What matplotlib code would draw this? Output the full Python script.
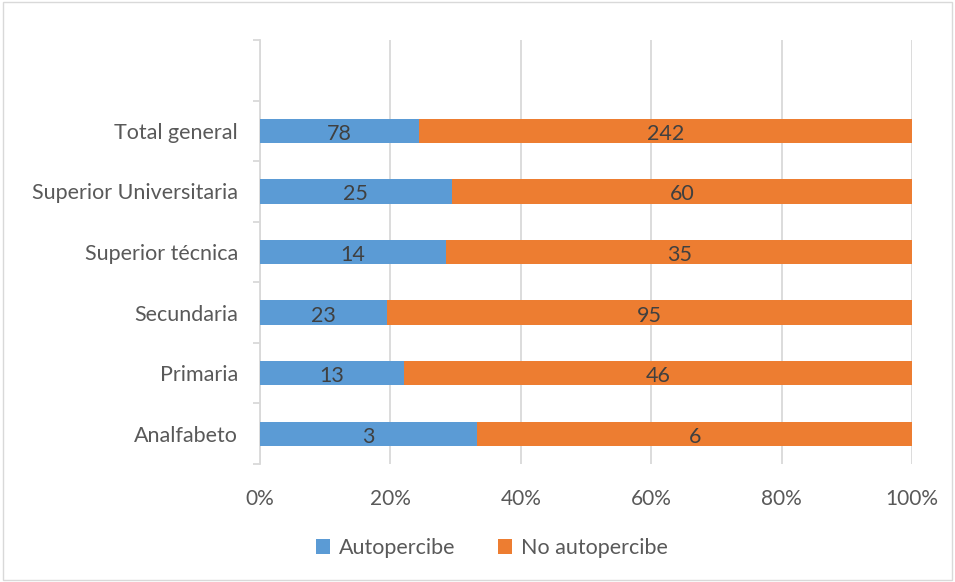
import matplotlib.pyplot as plt
import numpy as np

categorias = ['Analfabeto', 'Primaria', 'Secundaria', 'Superior técnica',
              'Superior Universitaria', 'Total general']
autopercibe = [3, 13, 23, 14, 25, 78]
no_autopercibe = [6, 46, 95, 35, 60, 242]

azul = '#5b9bd5'
naranja = '#ed7d31'
gris_texto = '#595959'

plt.rcParams['font.family'] = ['Lato', 'DejaVu Sans']

a = np.array(autopercibe, dtype=float)
b = np.array(no_autopercibe, dtype=float)
total = a + b
pa = a / total * 100
pb = b / total * 100
y = np.arange(len(categorias))

fig = plt.figure(figsize=(9.55, 5.82), dpi=100)
ax = fig.add_axes([260 / 955, 1 - 464 / 582, (912 - 260) / 955, (464 - 40) / 582])

ax.barh(y, pa, height=0.4, color=azul, label='Autopercibe', zorder=3)
ax.barh(y, pb, left=pa, height=0.4, color=naranja, label='No autopercibe', zorder=3)

for i in range(len(categorias)):
    ax.text(pa[i] / 2, y[i] - 0.05, str(autopercibe[i]), ha='center', va='center',
            fontsize=15.5, color='#404040', zorder=4)
    ax.text(pa[i] + pb[i] / 2, y[i] - 0.05, str(no_autopercibe[i]), ha='center', va='center',
            fontsize=15.5, color='#404040', zorder=4)

ax.set_xlim(0, 100)
ax.set_ylim(-0.5, len(categorias) + 0.5)
ax.set_xticks(np.arange(0, 101, 20))
ax.set_xticklabels([f'{v}%' for v in range(0, 101, 20)])
ax.set_yticks(y)
ax.set_yticklabels(categorias)
ax.set_yticks(np.arange(-0.5, len(categorias) + 1, 1), minor=True)
ax.tick_params(axis='y', which='major', length=0, pad=16, labelsize=15.5, labelcolor=gris_texto)
ax.tick_params(axis='y', which='minor', length=5, color='#d9d9d9', width=1.3)
ax.tick_params(axis='x', length=0, pad=18, labelsize=15, labelcolor=gris_texto)

ax.grid(True, axis='x', color='#d9d9d9', linewidth=1.3, zorder=0)
for s in ['top', 'right', 'bottom']:
    ax.spines[s].set_visible(False)
ax.spines['left'].set_color('#d9d9d9')
ax.spines['left'].set_linewidth(1.3)

fig.legend(loc='center', bbox_to_anchor=(0.515, 1 - 548 / 582), ncol=2, frameon=False,
           fontsize=15.5, handlelength=0.65, handleheight=0.65, handletextpad=0.4,
           columnspacing=2.0, labelcolor=gris_texto)

fig.patches.append(plt.Rectangle((0.003, 0.003), 0.994, 0.994, transform=fig.transFigure,
                                 fill=False, edgecolor='#d9d9d9', linewidth=1))

plt.savefig('out.png', dpi=100)
